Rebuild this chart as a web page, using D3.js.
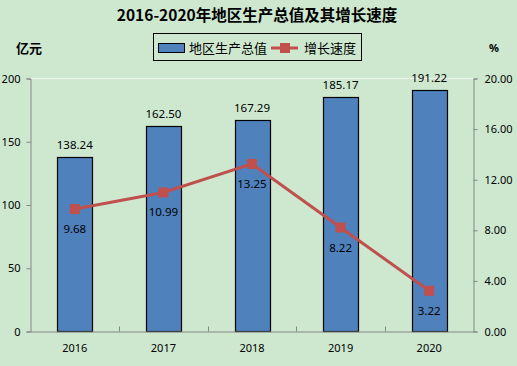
<!DOCTYPE html>
<html><head><meta charset="utf-8">
<script src="https://cdn.jsdelivr.net/npm/d3@7"></script>
<style>body{margin:0;background:#cde8cf;}svg{display:block;}</style>
</head><body>
<script>
const years = ["2016","2017","2018","2019","2020"];
const gdp = [138.24,162.50,167.29,185.17,191.22];
const growth = [9.68,10.99,13.25,8.22,3.22];
const leftTicks = [0,50,100,150,200];
const rightTicks = [0,4,8,12,16,20];

const W=517,H=366;
const svg=d3.select("body").append("svg").attr("width",W).attr("height",H);
svg.append("rect").attr("width",W).attr("height",H).attr("fill","#cde8cf");
const L=30.5,R=473.5,T=78.5,B=331.5;
const x=d3.scaleBand().domain(years).range([L,R]);
const yL=d3.scaleLinear().domain([0,200]).range([B,T]);
const yR=d3.scaleLinear().domain([0,20]).range([B,T]);
const font="'Noto Sans', sans-serif";

svg.append("line").attr("x1",L).attr("x2",R).attr("y1",T).attr("y2",T).attr("stroke","#f2f2f2").attr("stroke-width",1);

const bw=35;
svg.selectAll("rect.bar").data(years).enter().append("rect")
 .attr("x",d=>Math.round(x(d)+x.bandwidth()/2-bw/2)+0.5)
 .attr("y",(d,i)=>Math.round(yL(gdp[i]))+0.5)
 .attr("width",bw).attr("height",(d,i)=>B-Math.round(yL(gdp[i]))-0.5)
 .attr("fill","#4f81bd").attr("stroke","#000").attr("stroke-width",1.2);

const gl=svg.append("g").attr("transform",`translate(${L},0)`)
 .call(d3.axisLeft(yL).tickValues(leftTicks).tickSize(4).tickPadding(6));
const gr=svg.append("g").attr("transform",`translate(${R},0)`)
 .call(d3.axisRight(yR).tickValues(rightTicks).tickSize(4).tickPadding(7).tickFormat(d3.format(".2f")));
const gb=svg.append("g").attr("transform",`translate(0,${B})`)
 .call(d3.axisBottom(x).tickSize(0).tickPadding(13));
[gl,gr,gb].forEach(g=>{
 g.selectAll("path.domain").attr("stroke","#868686");
 g.selectAll("line").attr("stroke","#868686");
 g.selectAll("text").attr("font-family",font).attr("font-size",11).attr("fill","#000");
});
svg.selectAll("line.ct").data(years.slice(1)).enter().append("line")
 .attr("x1",d=>Math.round(x(d))+0.5).attr("x2",d=>Math.round(x(d))+0.5)
 .attr("y1",B).attr("y2",B-5).attr("stroke","#868686");

svg.selectAll("text.bl").data(years).enter().append("text")
 .attr("x",d=>x(d)+x.bandwidth()/2).attr("y",(d,i)=>yL(gdp[i])-8)
 .attr("text-anchor","middle").attr("font-family",font).attr("font-size",11.5)
 .text((d,i)=>gdp[i].toFixed(2));

const line=d3.line().x((d,i)=>x(years[i])+x.bandwidth()/2).y(d=>yR(d));
svg.append("path").datum(growth).attr("d",line).attr("fill","none")
 .attr("stroke","#c0504d").attr("stroke-width",3);
svg.selectAll("rect.mk").data(growth).enter().append("rect")
 .attr("x",(d,i)=>x(years[i])+x.bandwidth()/2-5).attr("y",d=>yR(d)-5)
 .attr("width",10).attr("height",10).attr("fill","#c0504d");
svg.selectAll("text.ll").data(growth).enter().append("text")
 .attr("x",(d,i)=>x(years[i])+x.bandwidth()/2).attr("y",d=>yR(d)+24)
 .attr("text-anchor","middle").attr("font-family",font).attr("font-size",11.5)
 .text(d=>d.toFixed(2));

svg.append("text").attr("x",257).attr("y",21).attr("text-anchor","middle")
 .attr("font-family","'Noto Sans CJK SC', sans-serif").attr("font-weight","bold").attr("font-size",15.5)
 .text("2016-2020年地区生产总值及其增长速度");
svg.append("text").attr("x",16).attr("y",53).attr("font-family","'Noto Sans CJK SC', sans-serif")
 .attr("font-weight","bold").attr("font-size",13).text("亿元");
svg.append("text").attr("x",489).attr("y",52).attr("font-family",font)
 .attr("font-weight","bold").attr("font-size",11).text("%");

const lg=svg.append("g");
lg.append("rect").attr("x",153.5).attr("y",33.5).attr("width",208).attr("height",27)
 .attr("fill","none").attr("stroke","#000");
lg.append("rect").attr("x",158.5).attr("y",43.5).attr("width",26).attr("height",9)
 .attr("fill","#4f81bd").attr("stroke","#000");
lg.append("text").attr("x",189).attr("y",53).attr("font-family","'Noto Sans CJK SC', sans-serif")
 .attr("font-size",13).text("地区生产总值");
lg.append("line").attr("x1",271).attr("x2",298).attr("y1",48).attr("y2",48).attr("stroke","#c0504d").attr("stroke-width",3);
lg.append("rect").attr("x",280).attr("y",43).attr("width",10).attr("height",10).attr("fill","#c0504d");
lg.append("text").attr("x",304).attr("y",53).attr("font-family","'Noto Sans CJK SC', sans-serif")
 .attr("font-size",13).text("增长速度");
</script>
</body></html>
